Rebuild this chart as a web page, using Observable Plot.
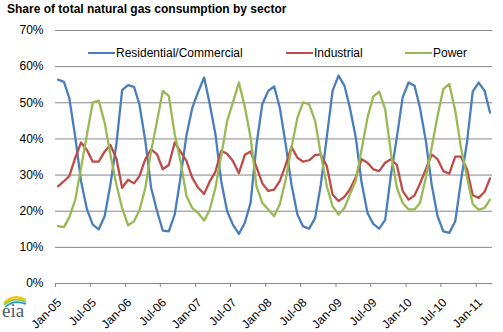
<!DOCTYPE html>
<html>
<head>
<meta charset="utf-8">
<script src="https://cdn.jsdelivr.net/npm/d3@7"></script>
<script src="https://cdn.jsdelivr.net/npm/@observablehq/plot@0.6"></script>
<style>
  html, body { margin: 0; padding: 0; background: #fff; }
  #wrap { position: relative; width: 503px; height: 332px; overflow: hidden; background: #fff; font-family: "Liberation Sans", Arial, sans-serif; }
  #title { position: absolute; left: 7px; top: 2px; font-size: 12px; font-weight: bold; color: #000; white-space: nowrap; }
  #chart { position: absolute; left: 0; top: 22px; z-index: 2; }
  #legend { position: absolute; left: 0; top: 0; width: 0; height: 0; z-index: 3; }
  .lg { position: absolute; top: 46px; height: 14px; display: flex; align-items: center; font-size: 12px; color: #000; white-space: nowrap; }
  .sw { display: inline-block; width: 27px; height: 2.5px; margin-right: 1px; }
  #logo { position: absolute; left: 0; top: 293px; width: 32px; height: 32px; z-index: 1; }
</style>
</head>
<body>
<div id="wrap">
  <div id="title">Share of total natural gas consumption by sector</div>
  <svg id="logo" viewBox="0 0 32 32">
    <path d="M4,10 Q14,0 26,7" fill="none" stroke="#f2c200" stroke-width="2"/>
    <path d="M4,12 Q14,3 26,9" fill="none" stroke="#8cc63f" stroke-width="1.6"/>
    <path d="M5,14 Q14,6 26,11" fill="none" stroke="#1a9ad6" stroke-width="1.6"/>
    <text x="2" y="24" font-family="Liberation Serif, DejaVu Serif, serif" font-size="19" fill="#4f5b66">eia</text>
  </svg>
  <div id="chart"></div>
  <div id="legend"></div>
</div>
<script>
// ---- data ----
const startMonth = "2005-01";
const seriesNames = ["Residential/Commercial", "Industrial", "Power"];
const seriesColors = ["#4A7EBB", "#BE4B48", "#98B954"];
const residential = [
  56.4, 55.8, 51.3, 40.5, 28.3, 20.5, 16.3, 15.0, 18.6, 27.4, 38.5, 53.5,
  54.9, 54.4, 49.6, 39.4, 26.5, 20.0, 14.6, 14.4, 19.1, 29.3, 41.0, 48.5,
  53.0, 57.0, 50.0, 41.3, 28.3, 20.0, 16.3, 13.7, 16.8, 22.3, 38.5, 49.6,
  53.3, 54.5, 48.7, 38.5, 27.4, 19.1, 15.8, 15.2, 18.1, 27.4, 40.5, 53.3,
  57.5, 54.7, 48.7, 40.4, 28.0, 19.5, 16.5, 15.2, 17.6, 30.0, 40.5, 51.5,
  55.6, 54.7, 48.7, 39.4, 27.4, 18.6, 14.4, 14.0, 17.2, 28.5, 39.0, 53.1,
  55.6, 53.3, 47.3
];
const industrial = [
  26.9, 28.3, 29.7, 34.8, 39.0, 36.9, 33.7, 33.7, 36.5, 38.3, 34.6, 26.5,
  28.7, 27.7, 29.7, 34.4, 37.1, 35.7, 31.6, 32.8, 39.0, 36.5, 33.9, 29.3,
  26.5, 24.8, 28.1, 30.9, 36.7, 35.9, 33.9, 30.5, 35.6, 36.5, 32.2, 27.7,
  25.6, 26.0, 28.3, 32.8, 37.8, 34.8, 33.7, 34.1, 35.5, 35.7, 32.5, 24.6,
  22.8, 24.0, 26.0, 29.4, 34.4, 33.4, 31.6, 31.1, 33.4, 34.4, 32.8, 25.6,
  23.2, 24.4, 27.6, 31.6, 35.7, 34.4, 31.1, 30.4, 35.1, 35.1, 31.6, 24.4,
  23.7, 25.4, 29.1
];
const power = [
  15.9, 15.6, 18.3, 23.2, 32.0, 41.3, 50.1, 50.6, 44.5, 35.7, 27.4, 20.9,
  16.1, 17.2, 20.2, 26.5, 36.7, 45.0, 53.3, 51.9, 41.3, 33.9, 24.2, 20.9,
  19.5, 17.4, 20.2, 26.5, 35.3, 45.0, 50.1, 55.6, 48.9, 40.4, 26.9, 22.3,
  20.5, 18.6, 21.9, 28.8, 37.6, 45.9, 50.1, 49.6, 45.0, 35.7, 26.9, 21.4,
  19.1, 20.9, 24.6, 28.5, 37.0, 45.9, 51.7, 53.1, 48.2, 36.2, 26.5, 22.3,
  20.5, 20.5, 22.3, 29.3, 37.6, 46.4, 53.8, 55.2, 47.8, 37.5, 29.5, 22.0,
  20.4, 20.9, 23.2
];
const xTickLabels = ["Jan-05","Jul-05","Jan-06","Jul-06","Jan-07","Jul-07","Jan-08","Jul-08","Jan-09","Jul-09","Jan-10","Jul-10","Jan-11"];
const yTicks = [0, 10, 20, 30, 40, 50, 60, 70];
const yTickLabels = ["0%", "10%", "20%", "30%", "40%", "50%", "60%", "70%"];

// ---- build ----
const [sy, sm] = startMonth.split("-").map(Number);
const dateOf = i => new Date(Date.UTC(sy, sm - 1 + i, 14));
const allSeries = [residential, industrial, power];
const parseTick = d3.utcParse("%b-%y");
const tickDates = xTickLabels.map(parseTick);
const labelByTime = new Map(tickDates.map((d, i) => [+d, xTickLabels[i]]));
const yLabelByValue = new Map(yTicks.map((v, i) => [v, yTickLabels[i]]));

const lineMarks = allSeries.map((vals, k) =>
  Plot.lineY(vals.map((v, i) => ({date: dateOf(i), value: v})), {
    x: "date", y: "value", stroke: seriesColors[k], strokeWidth: 2.3,
    strokeLinejoin: "round", strokeLinecap: "round"
  })
);

const chart = Plot.plot({
  width: 503,
  height: 310,
  marginLeft: 55,
  marginRight: 11,
  marginTop: 8,
  marginBottom: 49,
  style: {fontFamily: "'Liberation Sans', Arial, sans-serif", fontSize: "12px", background: "transparent", color: "#000"},
  x: {type: "utc", domain: [new Date(Date.UTC(2005, 0, 1)), new Date(Date.UTC(2011, 2, 27))], label: null},
  y: {domain: [0, 70], label: null},
  marks: [
    Plot.gridY(yTicks, {stroke: "#868686", strokeOpacity: 1, strokeWidth: 1}),
    ...lineMarks,
    Plot.axisY(yTicks, {label: null, tickSize: 0, tickPadding: 12, tickFormat: d => yLabelByValue.get(d), fill: "#000", fontSize: 12}),
    Plot.axisX(tickDates, {label: null, tickSize: 4, tickFormat: () => "", stroke: "#868686"}),
    Plot.axisX(tickDates, {label: null, tickSize: 0, tickPadding: 17, tickRotate: -45, dx: 4,
      tickFormat: d => labelByTime.get(+d), fill: "#000", fontSize: 12})
  ]
});
document.getElementById("chart").appendChild(chart);

// legend (HTML, over the plot)
const legendLeft = [88, 286, 405];
const legend = document.getElementById("legend");
seriesNames.forEach((name, k) => {
  const item = document.createElement("div");
  item.className = "lg";
  item.style.left = legendLeft[k] + "px";
  const sw = document.createElement("span");
  sw.className = "sw";
  sw.style.background = seriesColors[k];
  item.appendChild(sw);
  item.appendChild(document.createTextNode(name));
  legend.appendChild(item);
});
</script>
</body>
</html>
